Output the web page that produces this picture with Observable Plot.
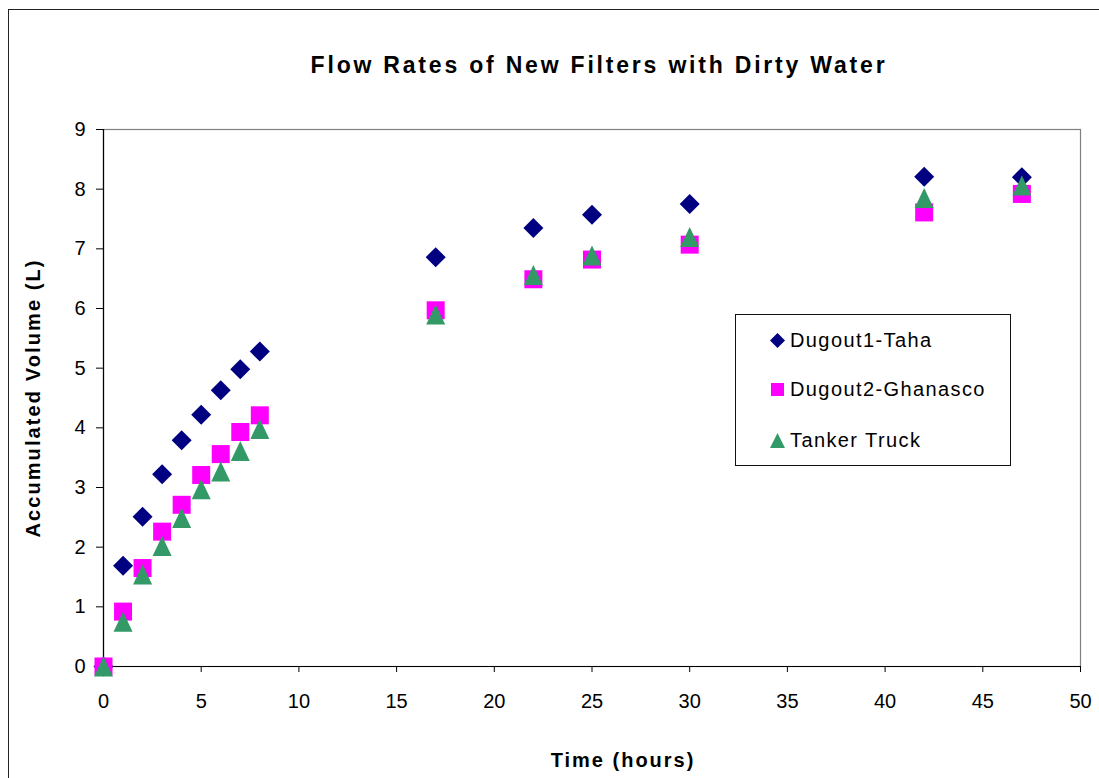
<!DOCTYPE html>
<html>
<head>
<meta charset="utf-8">
<script src="https://cdn.jsdelivr.net/npm/d3@7"></script>
<script src="https://cdn.jsdelivr.net/npm/@observablehq/plot@0.6"></script>
<style>
  html, body { margin: 0; padding: 0; background: #fff; overflow: hidden; }
  #wrap { position: relative; width: 1099px; height: 778px; overflow: hidden; font-family: "Liberation Sans", Arial, sans-serif; }
  #outer { position: absolute; left: 8px; top: 9px; width: 1300px; height: 1000px; border: 1.5px solid #222; box-sizing: border-box; }
  #chart { position: absolute; left: 0; top: 0; }
  #legend { position: absolute; left: 735px; top: 314px; width: 276px; height: 152px; border: 1.2px solid #111; box-sizing: border-box; background: #fff; }
  .item { position: absolute; left: 0; height: 24px; display: flex; align-items: center; font-size: 20px; color: #000; letter-spacing: 1.4px; }
  .item svg { margin-left: 34px; margin-right: 5px; }
</style>
</head>
<body>
<div id="wrap">
  <div id="outer"></div>
  <div id="chart"></div>
  <div id="legend"></div>
</div>
<script>
const hours   = [0, 1, 2, 3, 4, 5, 6, 7, 8, 17, 22, 25, 30, 42, 47];
const dugout1 = [0, 1.69, 2.51, 3.22, 3.79, 4.22, 4.63, 4.98, 5.28, 6.86, 7.35, 7.57, 7.75, 8.21, 8.20];
const dugout2 = [0, 0.92, 1.65, 2.26, 2.71, 3.21, 3.56, 3.93, 4.21, 5.97, 6.49, 6.82, 7.07, 7.61, 7.92];
const tanker  = [0, 0.75, 1.54, 2.02, 2.49, 2.97, 3.27, 3.61, 3.98, 5.90, 6.56, 6.89, 7.20, 7.85, 8.06];
const seriesNames = ["Dugout1-Taha", "Dugout2-Ghanasco", "Tanker Truck"];
const seriesColors = ["#000080", "#FF00FF", "#339966"];
const xTicks = [0, 5, 10, 15, 20, 25, 30, 35, 40, 45, 50];
const yTicks = [0, 1, 2, 3, 4, 5, 6, 7, 8, 9];
const titleText = "Flow Rates of New Filters with Dirty Water";
const xLabel = "Time (hours)";
const yLabel = "Accumulated Volume (L)";

// custom marker shapes (sized relative to r = sqrt(size/PI))
const diamondSym = { draw(ctx, size) { const r = Math.sqrt(size / Math.PI); ctx.moveTo(0, -r); ctx.lineTo(r, 0); ctx.lineTo(0, r); ctx.lineTo(-r, 0); ctx.closePath(); } };
const squareSym = { draw(ctx, size) { const r = Math.sqrt(size / Math.PI) * 0.9; ctx.moveTo(-r, -r); ctx.lineTo(r, -r); ctx.lineTo(r, r); ctx.lineTo(-r, r); ctx.closePath(); } };
const triangleSym = { draw(ctx, size) { const r = Math.sqrt(size / Math.PI); ctx.moveTo(0, -r); ctx.lineTo(r * 0.95, r); ctx.lineTo(-r * 0.95, r); ctx.closePath(); } };
const symbols = [diamondSym, squareSym, triangleSym];

const allSeries = [dugout1, dugout2, tanker].map((vals, i) =>
  hours.map((h, j) => ({ hours: h, volume: vals[j], series: seriesNames[i] })));

const font = "Liberation Sans, Arial, sans-serif";

const plot = Plot.plot({
  width: 1099,
  height: 778,
  marginLeft: 103,
  marginRight: 19,
  marginTop: 129,
  marginBottom: 112,
  style: { fontFamily: font, background: "transparent", overflow: "visible" },
  x: { domain: [0, 50] },
  y: { domain: [0, 9] },
  marks: [
    Plot.frame({ stroke: "#808080", strokeWidth: 1.2 }),
    Plot.ruleX([0], { stroke: "#000", strokeWidth: 1.2 }),
    Plot.ruleY([0], { stroke: "#000", strokeWidth: 1.2 }),
    Plot.axisX({ ticks: xTicks, tickSize: 6, tickPadding: 21, fontSize: 20, label: null, stroke: "#000", fill: "#000" }),
    Plot.axisY({ ticks: yTicks, tickSize: 7, tickPadding: 11, fontSize: 20, label: null, stroke: "#000", fill: "#000" }),
    ...allSeries.map((data, i) => Plot.dot(data, {
      x: "hours", y: "volume", r: 10, symbol: symbols[i], fill: seriesColors[i], stroke: "none"
    })),
    Plot.text([titleText], {
      frameAnchor: "top", dy: -73, dx: 7, fontSize: 23, fontWeight: "bold", fill: "#000"
    }),
    Plot.text([xLabel], {
      frameAnchor: "bottom", dy: 100, dx: 31, fontSize: 20, fontWeight: "bold", fill: "#000"
    }),
    Plot.text([yLabel], {
      frameAnchor: "left", textAnchor: "middle", dx: -70, rotate: -90, fontSize: 20, fontWeight: "bold", fill: "#000"
    })
  ]
});
document.getElementById("chart").appendChild(plot);

// wider letter spacing for the title and axis titles, as in the reference
const spacing = new Map([[titleText, "2.8px"], [xLabel, "2px"], [yLabel, "2.1px"]]);
d3.select(plot).selectAll("text").each(function () {
  const t = this.textContent;
  if (spacing.has(t)) this.setAttribute("letter-spacing", spacing.get(t));
});

// legend
const legend = document.getElementById("legend");
const itemTops = [13, 62, 113];
const legendShapes = [
  '<polygon points="7.5,0 15,7.5 7.5,15 0,7.5" />',
  '<rect x="1" y="1" width="13" height="13" />',
  '<polygon points="7.5,0 15,15 0,15" />'
];
seriesNames.forEach((name, i) => {
  const d = document.createElement("div");
  d.className = "item";
  d.style.top = itemTops[i] + "px";
  d.innerHTML = `<svg width="15" height="15" viewBox="0 0 15 15" fill="${seriesColors[i]}">${legendShapes[i]}</svg><span>${name}</span>`;
  legend.appendChild(d);
});
</script>
</body>
</html>
